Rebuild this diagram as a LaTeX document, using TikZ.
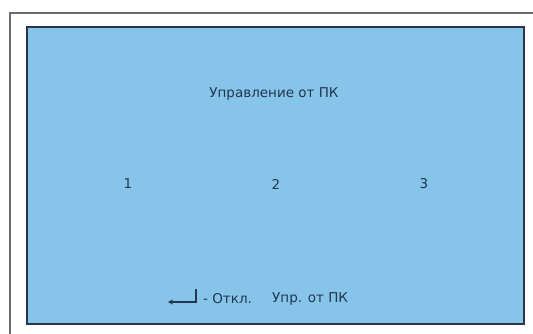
\documentclass[tikz,border=0pt]{standalone}
\usepackage{fontspec}
\setmainfont{DejaVu Sans}
\usetikzlibrary{arrows.meta}
\definecolor{panelblue}{HTML}{86C4E9}
\definecolor{paneledge}{HTML}{2A3548}
\definecolor{framegray}{HTML}{6B6E66}
\definecolor{txt}{HTML}{22364F}
\tikzset{
  lbl/.style={text=txt, font=\fontsize{13.5}{15}\selectfont, inner sep=0pt, anchor=center},
}
\begin{document}
\begin{tikzpicture}[x=1pt,y=-1pt]
\useasboundingbox[fill=white] (0,0) rectangle (533,333);
% outer frame (cut by the picture edge)
\draw[framegray, line width=1.4pt] (10,340) -- (10,13) -- (540,13);
% panel
\draw[paneledge, line width=1.4pt, fill=panelblue] (27,27) rectangle (524,324);
\node[lbl] (title) at (274,94) {Управление от ПК};
\node[lbl] (n1) at (128,184) {1};
\node[lbl] (n2) at (276,184) {2};
\node[lbl] (n3) at (424,184) {3};
% enter key symbol
\coordinate (ka) at (196,289);
\coordinate (kb) at (196,302);
\coordinate (kc) at (168,302);
\draw[txt, line width=1.1pt, -{Stealth[length=5pt,width=5pt]}] (ka) -- (kb) -- (kc);
\node[lbl, anchor=west] (off) at (203,299) {- Откл.};
\node[lbl, anchor=west] (pc) at (272,299) {Упр. от ПК};
\end{tikzpicture}
\end{document}
